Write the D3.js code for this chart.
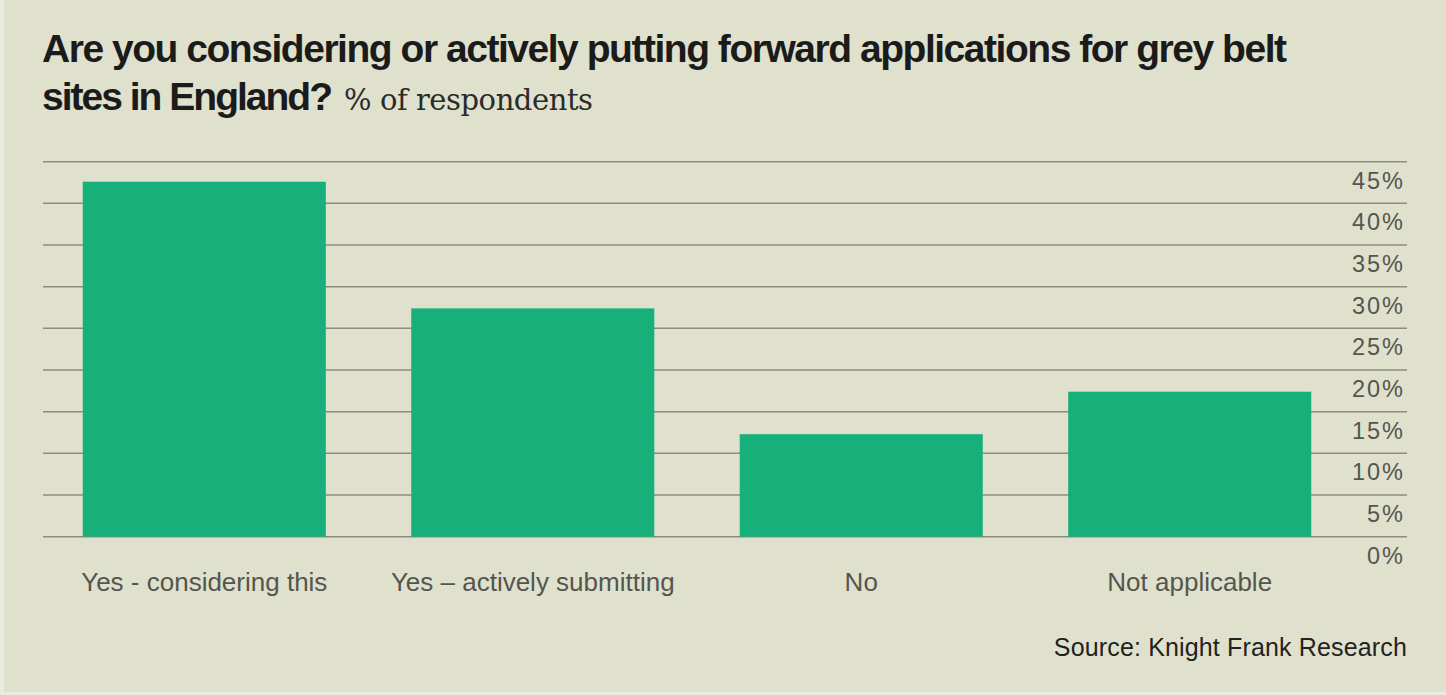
<!DOCTYPE html>
<html>
<head>
<meta charset="utf-8">
<script src="https://cdn.jsdelivr.net/npm/d3@7"></script>
<style>
  html, body { margin: 0; padding: 0; background: #e9ecde; }
  svg { display: block; }
</style>
</head>
<body>
<svg id="chart"></svg>
<script>
// data
var categories = ["Yes - considering this", "Yes \u2013 actively submitting", "No", "Not applicable"];
var values = [42.6, 27.4, 12.3, 17.4];
var ticks = [0, 5, 10, 15, 20, 25, 30, 35, 40, 45];

var width = 1446, height = 695;

var svg = d3.select("#chart")
    .attr("width", width)
    .attr("height", height);

// achtergrond
svg.append("rect")
    .attr("x", 4).attr("y", 0)
    .attr("width", width - 4).attr("height", 692)
    .attr("fill", "#dfe1cd");

// helper: pas letter-spacing aan tot tekst een doelbreedte heeft
function fitWidth(sel, target) {
  var node = sel.node();
  var len = node.getComputedTextLength();
  var n = sel.text().length;
  sel.attr("letter-spacing", (target - len) / (n - 1));
}

// titel
var t1 = svg.append("text")
    .attr("x", 42).attr("y", 62)
    .attr("font-family", "Liberation Sans, Arial, sans-serif")
    .attr("font-weight", "bold")
    .attr("font-size", 39)
    .attr("fill", "#1b1b1b")
    .text("Are you considering or actively putting forward applications for grey belt");
fitWidth(t1, 1245);

var t2 = svg.append("text")
    .attr("x", 42).attr("y", 110)
    .attr("font-family", "Liberation Sans, Arial, sans-serif")
    .attr("font-weight", "bold")
    .attr("font-size", 39)
    .attr("fill", "#1b1b1b")
    .text("sites in England?");
fitWidth(t2, 291);

var sub = svg.append("text")
    .attr("x", 344).attr("y", 110)
    .attr("font-family", "DejaVu Serif, Georgia, serif")
    .attr("font-size", 29)
    .attr("fill", "#2b2b2b")
    .text("% of respondents");
fitWidth(sub, 249);

// schalen
var x = d3.scaleBand()
    .domain(categories)
    .range([43, 1351])
    .paddingInner(0.26)
    .paddingOuter(0.121);

var y = d3.scaleLinear()
    .domain([0, 45])
    .range([536.7, 161.7]);

// gridlijnen
svg.append("g")
    .selectAll("line")
    .data(ticks)
    .enter().append("line")
      .attr("x1", 43)
      .attr("x2", 1407)
      .attr("y1", function(d) { return y(d); })
      .attr("y2", function(d) { return y(d); })
      .attr("stroke", "#8c8c82")
      .attr("stroke-width", 1.5);

// y as labels (rechts, onder de lijn)
svg.append("g")
    .selectAll("text")
    .data(ticks)
    .enter().append("text")
      .attr("x", 1405)
      .attr("y", function(d) { return y(d) + 27; })
      .attr("text-anchor", "end")
      .attr("font-family", "Liberation Sans, Arial, sans-serif")
      .attr("font-size", 23.5)
      .attr("letter-spacing", 2)
      .attr("fill", "#555550")
      .text(function(d) { return d + "%"; });

// staven
svg.append("g")
    .selectAll("rect")
    .data(values)
    .enter().append("rect")
      .attr("x", function(d, i) { return x(categories[i]); })
      .attr("y", function(d) { return y(d); })
      .attr("width", x.bandwidth())
      .attr("height", function(d) { return y(0) - y(d); })
      .attr("fill", "#18b07a");

// x labels
svg.append("g")
    .selectAll("text")
    .data(categories)
    .enter().append("text")
      .attr("x", function(d) { return x(d) + x.bandwidth() / 2; })
      .attr("y", 591)
      .attr("text-anchor", "middle")
      .attr("font-family", "Liberation Sans, Arial, sans-serif")
      .attr("font-size", 26)
      .attr("letter-spacing", 0)
      .attr("fill", "#555550")
      .text(function(d) { return d; });

// bron
svg.append("text")
    .attr("x", 1407).attr("y", 656)
    .attr("text-anchor", "end")
    .attr("font-family", "Liberation Sans, Arial, sans-serif")
    .attr("font-size", 25)
    .attr("letter-spacing", 0.15)
    .attr("fill", "#222222")
    .text("Source: Knight Frank Research");
</script>
</body>
</html>
